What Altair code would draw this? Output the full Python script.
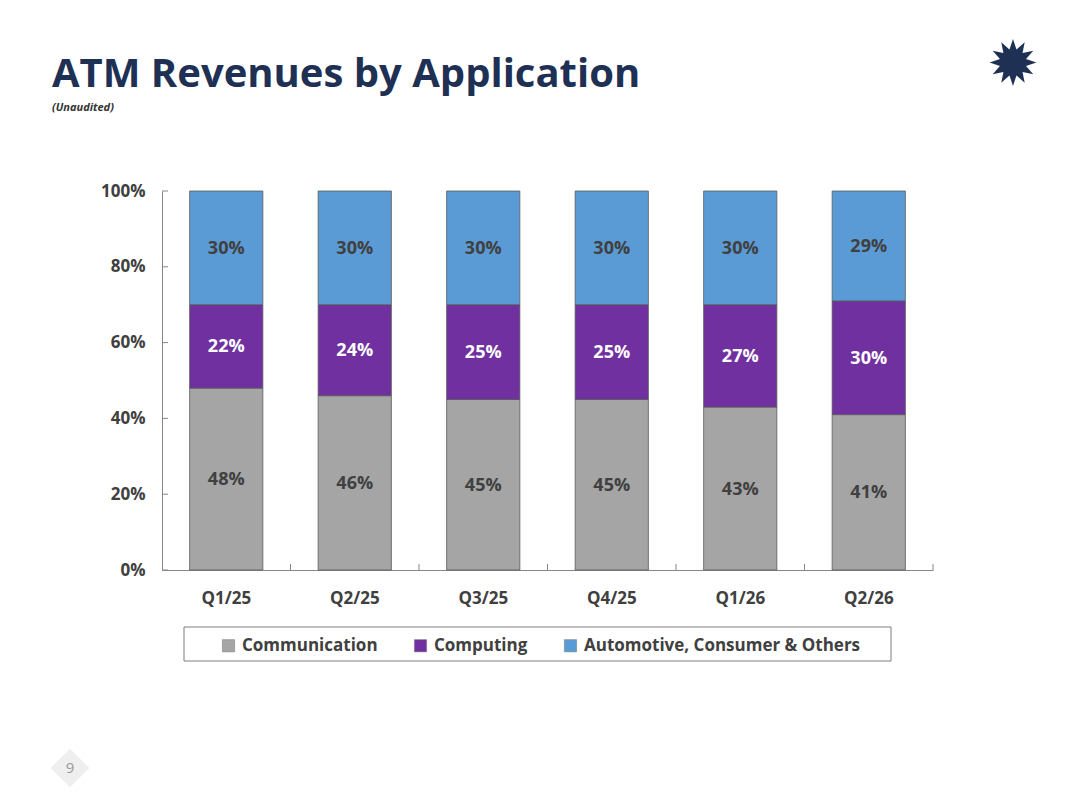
import altair as alt
import pandas as pd

quarters = ["Q1/25", "Q2/25", "Q3/25", "Q4/25", "Q1/26", "Q2/26"]
communication = [48, 46, 45, 45, 43, 41]
computing = [22, 24, 25, 25, 27, 30]
automotive = [30, 30, 30, 30, 30, 29]
series = ["Communication", "Computing", "Automotive, Consumer & Others"]
colors = ["#A5A5A5", "#7030A0", "#5B9BD5"]
y_ticks = [0, 0.2, 0.4, 0.6, 0.8, 1.0]

rows = []
for i, q in enumerate(quarters):
    for k, (name, vals) in enumerate(zip(series, [communication, computing, automotive])):
        rows.append({"quarter": q, "series": name, "order": k, "value": vals[i] / 100,
                     "label": f"{vals[i]}%"})
df = pd.DataFrame(rows)

FONT = "Open Sans"
W, H = 771, 379
PI = 0.43
STEP = W / len(quarters)

x_scale = alt.Scale(domain=quarters, paddingInner=PI, paddingOuter=PI / 2)
y_scale = alt.Scale(domain=[0, 1])
color_scale = alt.Scale(domain=series, range=colors)

base = alt.Chart(df)

bars = base.mark_bar(stroke="#5A5A5A", strokeWidth=0.8).encode(
    x=alt.X("quarter:N", scale=x_scale, sort=quarters, title=None,
            axis=alt.Axis(labelAngle=0, labelFont=FONT, labelFontSize=17, labelFontWeight="bold",
                          labelColor="#404040", ticks=False, labelPadding=20,
                          domainColor="#868686", domainWidth=1)),
    y=alt.Y("value:Q", scale=y_scale, stack="zero", title=None,
            axis=alt.Axis(values=y_ticks, format=".0%", grid=False, ticks=False,
                          labelFont=FONT, labelFontSize=17, labelFontWeight="bold",
                          labelColor="#404040", labelPadding=17,
                          domainColor="#868686", domainWidth=1)),
    color=alt.Color("series:N", scale=color_scale, sort=series,
                    legend=alt.Legend(title=None, orient="none", legendX=58, legendY=446,
                                      direction="horizontal", symbolType="square",
                                      symbolSize=150, symbolStrokeColor="#777777",
                                      symbolStrokeWidth=0.5,
                                      labelFont=FONT, labelFontSize=17, labelFontWeight="bold",
                                      labelColor="#404040", labelLimit=400,
                                      columnPadding=34, labelOffset=5)),
    order=alt.Order("order:Q"),
)

labels = base.transform_stack(
    stack="value", groupby=["quarter"], as_=["y0", "y1"], sort=[alt.SortField("order")]
).transform_calculate(
    mid="(datum.y0 + datum.y1) / 2"
).mark_text(font=FONT, fontSize=18, fontWeight="bold", dy=1).encode(
    x=alt.X("quarter:N", scale=x_scale, sort=quarters),
    y=alt.Y("mid:Q", scale=y_scale),
    text="label:N",
    color=alt.condition(alt.datum.series == "Computing", alt.value("white"), alt.value("#404040")),
)

# inward tick marks at category boundaries and y tick values
x_tick_df = pd.DataFrame({"quarter": quarters})
x_ticks_layer = alt.Chart(x_tick_df).mark_rule(
    color="#868686", strokeWidth=1, xOffset=PI / 2 * STEP
).encode(
    x=alt.X("quarter:N", scale=x_scale, sort=quarters, bandPosition=1),
    y=alt.value(H - 6), y2=alt.value(H),
)
y_tick_df = pd.DataFrame({"v": y_ticks})
y_ticks_layer = alt.Chart(y_tick_df).mark_rule(color="#868686", strokeWidth=1).encode(
    y=alt.Y("v:Q", scale=y_scale), x=alt.value(0), x2=alt.value(6),
)

one = alt.Data(values=[{}])
legend_box = alt.Chart(one).mark_rect(fill="white", stroke="#7F7F7F", strokeWidth=1).encode(
    x=alt.value(22), x2=alt.value(729), y=alt.value(436), y2=alt.value(470)
)
logo = alt.Chart(one).mark_text(text="✹", font="DejaVu Sans", fontSize=62, color="#1F3055").encode(
    x=alt.value(851), y=alt.value(-125)
)
page_bg = alt.Chart(one).mark_point(shape="diamond", filled=True, size=1500, color="#EFEFEF",
                                    opacity=1).encode(x=alt.value(-92), y=alt.value(577))
page_num = alt.Chart(one).mark_text(text="9", font=FONT, fontSize=15, color="#9A9A9A").encode(
    x=alt.value(-92), y=alt.value(577)
)
title = alt.Chart(one).mark_text(
    text="ATM Revenues by Application", font=FONT, fontSize=40, fontWeight="bold",
    color="#1F3055", align="left", baseline="alphabetic"
).encode(x=alt.value(-110), y=alt.value(-104))
subtitle = alt.Chart(one).mark_text(
    text="(Unaudited)", font=FONT, fontSize=11, fontWeight="bold", fontStyle="italic",
    color="#333333", align="left", baseline="alphabetic"
).encode(x=alt.value(-110), y=alt.value(-80))

chart = alt.layer(
    legend_box, page_bg, page_num, logo, title, subtitle, bars, labels,
    x_ticks_layer, y_ticks_layer
).properties(
    width=W, height=H,
    background="white",
    autosize=alt.AutoSizeParams(type="none"),
    padding={"left": 154, "top": 183, "right": 139, "bottom": 232},
).configure_view(stroke=None, strokeWidth=0)

chart.save("out.html", embed_options={"renderer": "svg", "actions": False})
